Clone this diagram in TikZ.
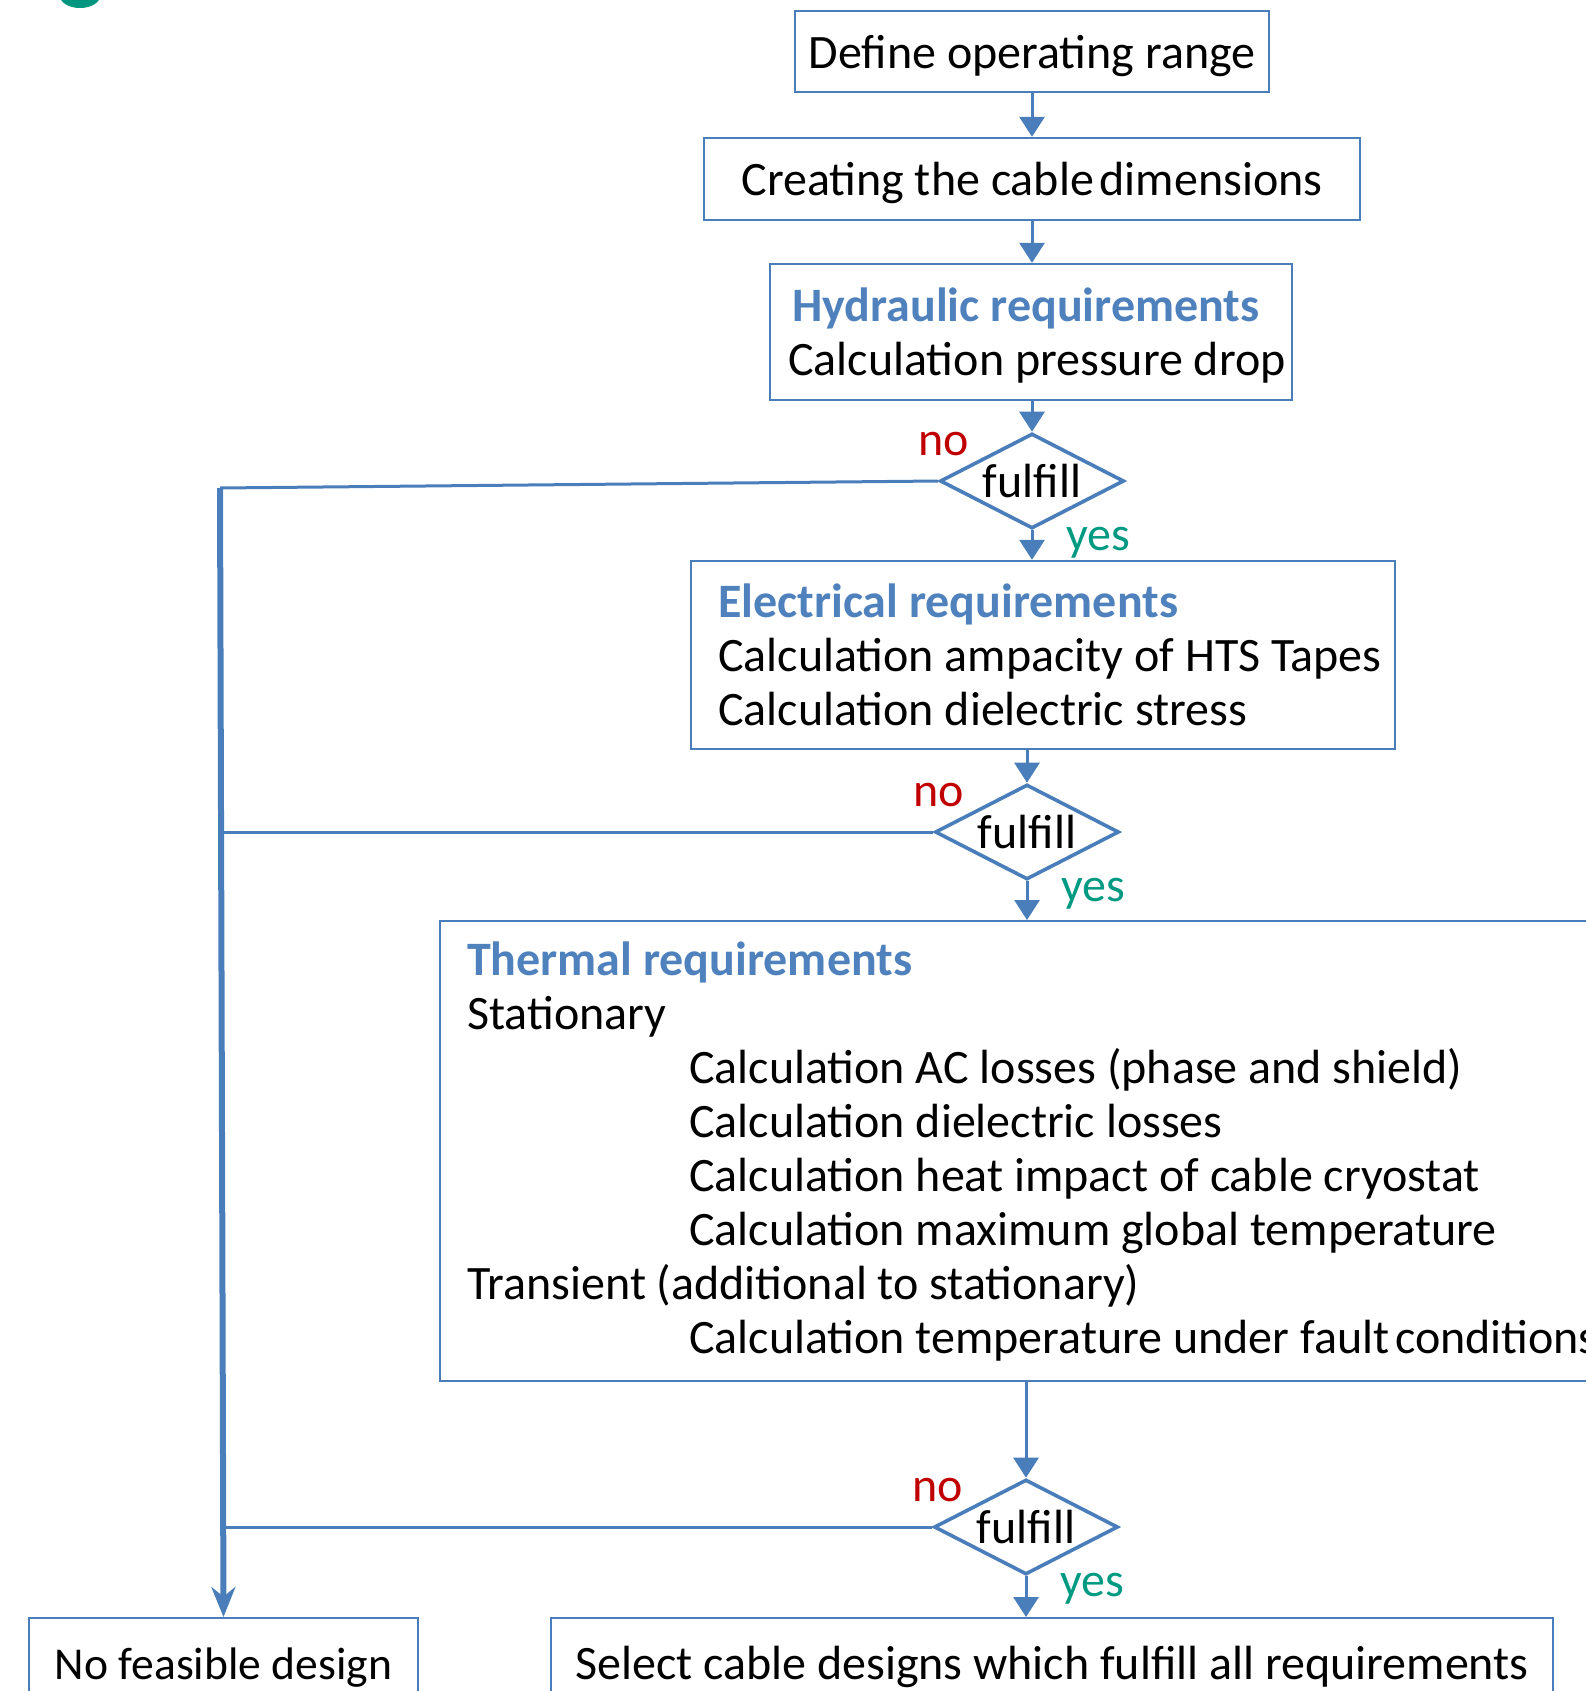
\documentclass[tikz,border=0pt]{standalone}
\usepackage{fontspec}
\setmainfont{Carlito}
\usetikzlibrary{shapes.geometric,arrows.meta}
\definecolor{lineblue}{RGB}{74,126,187}
\definecolor{headblue}{RGB}{79,129,189}
\definecolor{nored}{RGB}{192,0,0}
\definecolor{yesgreen}{RGB}{0,153,129}
\definecolor{blobgreen}{RGB}{0,150,128}

\begin{document}
\begin{tikzpicture}[x=0.5pt,y=-0.5pt,
    every node/.style={font=\fontsize{24}{27}\selectfont},
    stepbox/.style={draw=lineblue,line width=1.2pt,inner sep=0pt,align=center,text depth=0pt},
    reqbox/.style={draw=lineblue,line width=1.2pt,inner ysep=0pt,align=left},
    textbox/.style={reqbox,text depth=0pt},
    decision/.style={diamond,draw=lineblue,line width=1.8pt,aspect=2,inner sep=0pt,
        minimum width=92pt,minimum height=47.5pt},
    nolabel/.style={text=nored},
    yeslabel/.style={text=yesgreen},
    flow/.style={draw=lineblue,line width=1.5pt},
    arrow/.style={flow,-{Triangle[width=12.5pt,length=10pt]}},
    trunk/.style={draw=lineblue,line width=3pt,-{Stealth[width=12pt,length=15pt]}}]
    \useasboundingbox (0,0) rectangle (1585,1691);
    % corner mark, cut by the page:
    \fill[blobgreen] (80,-4) ellipse [x radius=10pt, y radius=6pt];

    % Main column of steps:
    \node[stepbox,minimum width=237pt,minimum height=40.5pt] (range) at (1032,51.5) {Define operating range};
    \node[stepbox,minimum width=328pt,minimum height=41pt] (dims) at (1032,179) {Creating the cable\hspace{0.12em}dimensions};
    \node[textbox,inner xsep=0pt,minimum width=261pt,minimum height=68pt] (hydr) at (1031,332)
        {\hspace*{8pt}\textcolor{headblue}{\bfseries Hydraulic requirements}\\ \hspace*{6pt}Calculation pressure drop};
    \node[decision] (dia1) at (1032,481) {fulfill};
    \node[textbox,inner xsep=0pt,minimum width=352pt,minimum height=94pt] (elec) at (1043,655)
        {\hspace*{7pt}\textcolor{headblue}{\bfseries Electrical requirements}\\ \hspace*{7pt}Calculation ampacity of HTS Tapes\\ \hspace*{7pt}Calculation dielectric stress};
    \node[decision] (dia2) at (1027,832) {fulfill};
    \node[reqbox,inner xsep=13.5pt,minimum height=230pt,anchor=north west] (therm) at (439,920)
        {\textcolor{headblue}{\bfseries Thermal requirements}\\
         Stationary\\
         \hspace*{111pt}Calculation AC losses (phase and shield)\\
         \hspace*{111pt}Calculation dielectric losses\\
         \hspace*{111pt}Calculation heat impact of cable cryostat\\
         \hspace*{111pt}Calculation maximum global temperature\\
         Transient (additional to stationary)\\
         \hspace*{111pt}Calculation temperature under fault\hspace{0.12em}conditions\hspace*{20pt}};
    \node[decision] (dia3) at (1026,1527) {fulfill};

    % End boxes (cut by the page):
    \node[stepbox,minimum width=194.5pt,minimum height=45pt,anchor=north,font=\fontsize{22.8}{27}\selectfont] (nofeas) at (223.5,1617) {No feasible design};
    \node[stepbox,minimum width=501pt,minimum height=45pt,anchor=north] (select) at (1052,1617) {Select cable designs which fulfill all requirements};

    % no / yes labels:
    \foreach \d in {dia1,dia2,dia3}{
        \node[nolabel] (no-\d) at ([shift={(-88,-37)}]\d.center) {no};
        \node[yeslabel] (yes-\d) at ([shift={(66,62)}]\d.center) {yes};
    }

    % Arrows down the column:
    \draw[arrow] (range.south) -- (dims.north);
    \draw[arrow] (dims.south) -- (hydr.north -| dims.south);
    \draw[arrow] (dia1.north |- hydr.south) -- (dia1.north);
    \draw[arrow] (dia1.south) -- (dia1.south |- elec.north);
    \draw[arrow] (dia2.north |- elec.south) -- (dia2.north);
    \draw[arrow] (dia2.south) -- (dia2.south |- therm.north);
    \draw[arrow] (dia3.north |- therm.south) -- (dia3.north);
    \draw[arrow] (dia3.south) -- (dia3.south |- select.north);

    % Return line on the left:
    \coordinate (top) at (220,488);
    \coordinate (j2) at (221,832);
    \coordinate (j3) at (222,1527);
    \draw[flow] (dia1.west) -- (top);
    \draw[flow] (dia2.west) -- (j2);
    \draw[flow] (dia3.west) -- (j3);
    \draw[trunk] (top) -- (nofeas.north);
\end{tikzpicture}
\end{document}
